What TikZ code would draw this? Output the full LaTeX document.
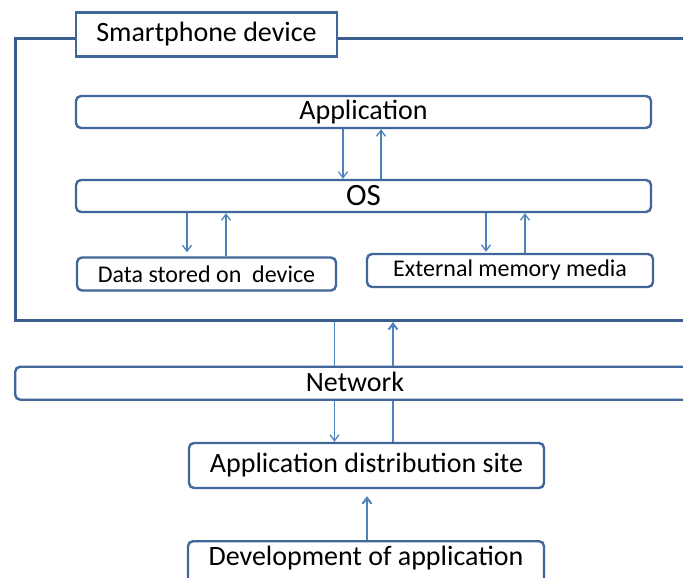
\documentclass[tikz,border=0pt]{standalone}
\usepackage{fontspec}
\setmainfont{Carlito}
\usetikzlibrary{arrows.meta}
\definecolor{boxc}{HTML}{41669A}
\definecolor{framec}{HTML}{3A5F8F}
\definecolor{arrc}{HTML}{4F81BD}
\tikzset{
  rbox/.style={draw=boxc, line width=2.4pt, rounded corners=5pt, fill=white, inner sep=0pt, text=black},
  lab/.style={draw=boxc, line width=2.2pt, fill=white, inner sep=0pt, text=black},
  frm/.style={draw=framec, line width=3pt, inner sep=0pt},
  arr/.style={draw=arrc, line width=1.3pt, -{Straight Barb[length=6pt,width=9pt,line width=1.3pt]}},
  arrthick/.style={draw=arrc, line width=2pt, -{Straight Barb[length=6pt,width=9pt,line width=2pt]}},
  plain/.style={draw=arrc, line width=1.3pt},
  plainthick/.style={draw=arrc, line width=2pt},
  big/.style={font=\fontsize{28}{32}\selectfont},
  os/.style={font=\fontsize{31}{35}\selectfont},
  small/.style={font=\fontsize{24}{28}\selectfont},
}
\begin{document}
\begin{tikzpicture}[x=1pt,y=-1pt]
\useasboundingbox (0,0) rectangle (683,578);
\clip (0,0) rectangle (683,578);
% smartphone frame
\node[frm, minimum width=700pt, minimum height=282pt, anchor=north west] (dev) at (14,37) {};
\node[lab, big, minimum width=261pt, minimum height=44pt] (label) at (206.5,34.5) {Smartphone device};
% inner boxes
\node[rbox, big, minimum width=575pt, minimum height=32pt] (app) at (363.5,112) {Application};
\node[rbox, os, minimum width=575pt, minimum height=32pt] (os) at (363.5,196) {OS};
\node[rbox, small, minimum width=259pt, minimum height=33pt] (data) at (206.5,274) {Data stored on\ \ device};
\node[rbox, small, minimum width=286pt, minimum height=33pt] (ext) at (510,270.5) {External memory media};
% network and below
\node[rbox, big, minimum width=720pt, minimum height=33pt, anchor=north west] (net) at (14,365.5) {};
\node[big] (nettext) at (355,382) {Network};
\node[rbox, big, minimum width=355pt, minimum height=45pt] (dist) at (366.5,465.5) {Application distribution site};
\node[rbox, big, minimum width=356pt, minimum height=50pt, anchor=north] (devapp) at (366,540) {};
\node[big] (devtext) at (366,558) {Development of application};
% x positions
\coordinate (xa) at (343,0);
\coordinate (xb) at (381,0);
\coordinate (xc) at (187,0);
\coordinate (xd) at (226,0);
\coordinate (xe) at (486,0);
\coordinate (xf) at (525,0);
\coordinate (xg) at (334.5,0);
\coordinate (xh) at (393,0);
\coordinate (xi) at (367,0);
% arrows
\draw[arr] (app.south -| xa) -- (os.north -| xa);
\draw[arr] (os.north -| xb) -- (app.south -| xb);
\draw[arr] (os.south -| xc) -- ([yshift=4pt]data.north -| xc);
\draw[arr] (data.north -| xd) -- (os.south -| xd);
\draw[arr] (os.south -| xe) -- ([yshift=1pt]ext.north -| xe);
\draw[arr] (ext.north -| xf) -- (os.south -| xf);
\draw[plain] (dev.south -| xg) -- (net.north -| xg);
\draw[arr] (net.south -| xg) -- (dist.north -| xg);
\draw[plainthick] (dist.north -| xh) -- (net.south -| xh);
\draw[arrthick] (net.north -| xh) -- (dev.south -| xh);
\draw[arrthick, shorten >=7pt] (devapp.north -| xi) -- (dist.south -| xi);
\end{tikzpicture}
\end{document}
